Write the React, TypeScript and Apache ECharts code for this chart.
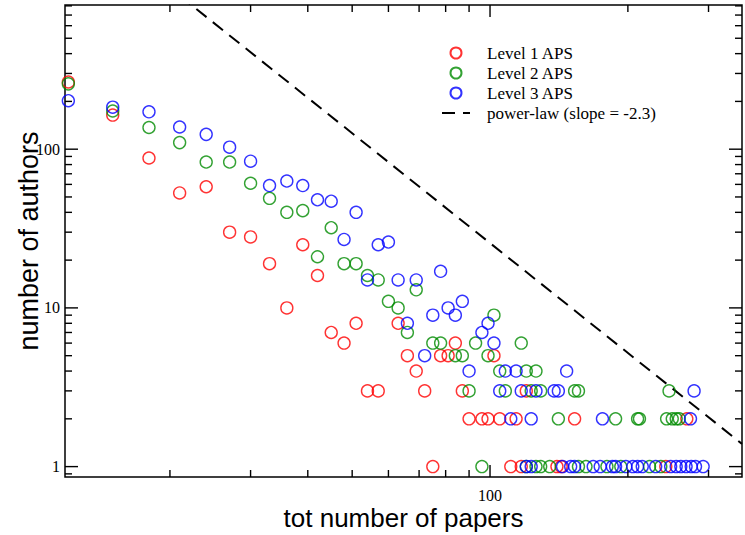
import React, { useEffect, useRef } from 'react';
import * as echarts from 'echarts';

// Level 1 APS (red): [tot number of papers, number of authors]
const level1: [number, number][] = [
  [12, 265], [15, 164], [18, 88], [21, 53], [24, 58], [27, 30], [30, 28], [33, 19],
  [36, 10], [39, 25], [42, 16], [45, 7], [48, 6], [51, 8], [54, 3], [57, 3],
  [63, 8], [66, 5], [69, 4], [72, 3], [75, 1], [78, 5], [81, 5], [84, 6],
  [87, 3], [90, 2], [96, 2], [99, 2], [102, 5], [105, 2], [111, 1], [114, 2],
  [117, 1], [120, 3], [140, 1], [143, 1], [153, 2], [242, 1], [269, 2],
];

// Level 2 APS (green)
const level2: [number, number][] = [
  [12, 258], [15, 174], [18, 137], [21, 110], [24, 83], [27, 83], [30, 61], [33, 49],
  [36, 40], [39, 41], [42, 21], [45, 32], [48, 19], [51, 19], [54, 16], [57, 15],
  [60, 11], [63, 10], [66, 7], [69, 13], [75, 6], [78, 6], [84, 5], [87, 5],
  [90, 3], [93, 6], [96, 1], [99, 5], [102, 9], [105, 4], [108, 3], [117, 6],
  [120, 4], [123, 3], [126, 4], [129, 3], [141, 2], [153, 3], [156, 3], [188, 2],
  [210, 2], [212, 2], [243, 2], [246, 3], [250, 2], [255, 2], [259, 2],
  [120, 1], [126, 1], [129, 1], [135, 1], [156, 1], [162, 1], [180, 1], [193, 1],
  [223, 1], [236, 1],
];

// Level 3 APS (blue)
const level3: [number, number][] = [
  [12, 202], [15, 184], [18, 172], [21, 138], [24, 124], [27, 103], [30, 84], [33, 59],
  [36, 63], [39, 59], [42, 48], [45, 47], [48, 27], [51, 40], [54, 15], [57, 25],
  [60, 26], [63, 15], [66, 8], [69, 15], [72, 5], [75, 9], [78, 17], [81, 10],
  [84, 9], [87, 11], [90, 4], [96, 7], [99, 8], [102, 6], [105, 3], [108, 4],
  [111, 2], [114, 4], [117, 3], [123, 2], [126, 3], [138, 3], [141, 3], [147, 4],
  [176, 2], [274, 2], [279, 3],
  [120, 1], [123, 1], [144, 1], [150, 1], [153, 1], [168, 1], [174, 1], [185, 1],
  [188, 1], [198, 1], [205, 1], [210, 1], [215, 1], [230, 1], [248, 1], [255, 1],
  [261, 1], [268, 1], [275, 1], [281, 1], [292, 1],
];

// power-law reference line (slope = -2.3), endpoints
const powerLaw: [number, number][] = [[11.8, 3490], [355, 1.39]];

const xMajorTicks = [100];
const xMinorTicks = [20, 30, 40, 50, 60, 70, 80, 90, 200, 300];
const yMajorTicks = [1, 10, 100];
const yMinorTicks = [0.9, 2, 3, 4, 5, 6, 7, 8, 9, 20, 30, 40, 50, 60, 70, 80, 90, 200, 300, 400, 500, 600, 700, 800];

const X_MIN = 11.8;
const X_MAX = 355;
const Y_MIN = 0.86;
const Y_MAX = 810;

const SERIF = '"Liberation Serif", "Times New Roman", serif';
const SANS = '"Liberation Sans", Arial, sans-serif';

function tickSeries(values: number[], dir: 'x' | 'y', len: number) {
  return {
    type: 'custom',
    silent: true,
    clip: false,
    z: 5,
    data: values.map((v) => (dir === 'x' ? [v, 10] : [20, v])),
    encode: { x: 0, y: 1 },
    renderItem: (params: any, api: any) => {
      const cs = params.coordSys;
      const p = api.coord([api.value(0), api.value(1)]);
      const style = { stroke: '#000', lineWidth: 1.4 };
      if (dir === 'x') {
        const x = p[0];
        const b = cs.y + cs.height;
        return {
          type: 'group',
          children: [
            { type: 'line', shape: { x1: x, y1: b, x2: x, y2: b - len }, style },
            { type: 'line', shape: { x1: x, y1: cs.y, x2: x, y2: cs.y + len }, style },
          ],
        };
      }
      const y = p[1];
      const r = cs.x + cs.width;
      return {
        type: 'group',
        children: [
          { type: 'line', shape: { x1: cs.x, y1: y, x2: cs.x + len, y2: y }, style },
          { type: 'line', shape: { x1: r, y1: y, x2: r - len, y2: y }, style },
        ],
      };
    },
  };
}

function scatter(name: string, data: [number, number][], color: string) {
  return {
    name,
    type: 'scatter',
    data,
    symbol: 'circle',
    symbolSize: 12,
    itemStyle: { color: 'transparent', borderColor: color, borderWidth: 1.4 },
    z: 3,
  };
}

export default function App() {
  const ref = useRef<HTMLDivElement>(null);
  useEffect(() => {
    if (!ref.current) return;
    const chart = echarts.init(ref.current, null, { renderer: 'svg' });
    chart.setOption({
      animation: false,
      backgroundColor: '#fff',
      grid: {
        left: 65,
        right: 3,
        top: 5,
        bottom: 58,
        show: true,
        borderColor: '#000',
        borderWidth: 1.5,
        backgroundColor: 'transparent',
        outerBoundsMode: 'none',
      },
      legend: {
        orient: 'vertical',
        left: 436,
        top: 38,
        itemWidth: 28,
        itemHeight: 11,
        itemGap: 0,
        data: [
          'Level 1 APS',
          'Level 2 APS',
          'Level 3 APS',
          { name: 'power-law (slope = -2.3)', itemStyle: { color: 'transparent', borderWidth: 0, opacity: 0 } },
        ],
        textStyle: { fontFamily: SERIF, fontSize: 17, color: '#000', lineHeight: 20, padding: [0, 0, 0, 12] },
      },
      xAxis: {
        type: 'log',
        logBase: 10,
        min: X_MIN,
        max: X_MAX,
        name: 'tot number of papers',
        nameLocation: 'middle',
        nameGap: 28,
        nameMoveOverlap: false,
        nameTextStyle: { fontFamily: SANS, fontSize: 26, color: '#000' },
        axisLine: { show: false },
        axisTick: { show: false },
        minorTick: { show: false },
        splitLine: { show: false },
        axisLabel: {
          showMinLabel: false,
          showMaxLabel: false,
          margin: 10,
          fontFamily: SERIF,
          fontSize: 16,
          color: '#000',
        },
      },
      yAxis: {
        type: 'log',
        logBase: 10,
        min: Y_MIN,
        max: Y_MAX,
        name: 'number of authors',
        nameLocation: 'middle',
        nameGap: 23,
        nameMoveOverlap: false,
        nameTextStyle: { fontFamily: SANS, fontSize: 27, color: '#000' },
        axisLine: { show: false },
        axisTick: { show: false },
        minorTick: { show: false },
        splitLine: { show: false },
        axisLabel: {
          showMinLabel: false,
          showMaxLabel: false,
          margin: 5,
          fontFamily: SERIF,
          fontSize: 16,
          color: '#000',
        },
      },
      series: [
        scatter('Level 1 APS', level1, '#ff0000'),
        scatter('Level 2 APS', level2, '#008b00'),
        scatter('Level 3 APS', level3, '#0000ff'),
        {
          name: 'power-law (slope = -2.3)',
          type: 'line',
          data: powerLaw,
          symbol: 'none',
          clip: true,
          lineStyle: { color: '#000', width: 2, type: [13, 8] },
          itemStyle: { color: 'transparent', borderWidth: 0 },
          z: 2,
        },
        tickSeries(xMajorTicks, 'x', 12),
        tickSeries(xMinorTicks, 'x', 7),
        tickSeries(yMajorTicks, 'y', 13),
        tickSeries(yMinorTicks, 'y', 7),
      ],
    });
    return () => chart.dispose();
  }, []);
  return <div ref={ref} style={{ position: 'fixed', left: 0, top: 0, width: 745, height: 535 }} />;
}
